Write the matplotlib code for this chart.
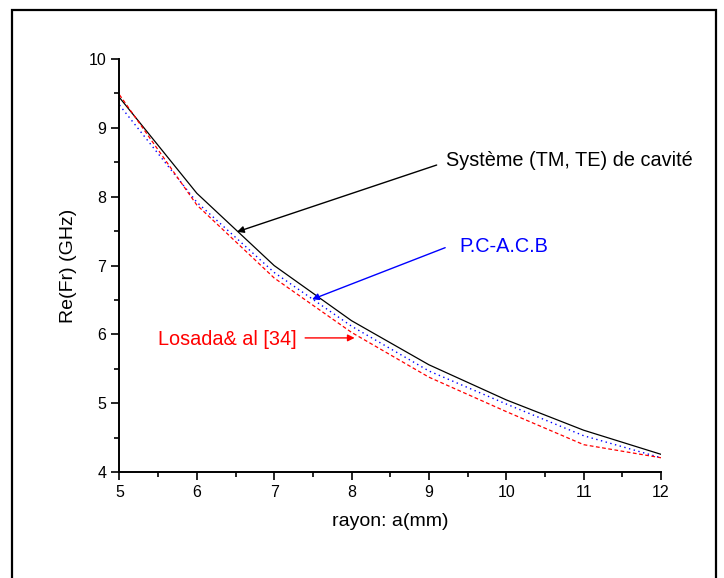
import matplotlib
matplotlib.use("Agg")
import matplotlib.pyplot as plt
from matplotlib.patches import Rectangle
from matplotlib.ticker import MultipleLocator

plt.rcParams['font.family'] = ['Liberation Sans', 'DejaVu Sans']

# data
rayon = [5, 6, 7, 8, 9, 10, 11, 12]
systeme = [9.44, 8.05, 7.00, 6.20, 5.56, 5.05, 4.61, 4.26]
pcacb = [9.33, 7.92, 6.90, 6.12, 5.47, 4.99, 4.53, 4.21]
losada = [9.48, 7.88, 6.82, 6.03, 5.38, 4.88, 4.40, 4.21]

fig = plt.figure(figsize=(7.24, 5.78), dpi=100)
ax = fig.add_axes([0.165, 0.183, 0.748, 0.715])

# outer frame
fig.patches.append(Rectangle((12 / 724, -0.05), 704 / 724, 1.05 - 10 / 578,
                             transform=fig.transFigure, fill=False,
                             edgecolor='black', linewidth=1.6))

ax.plot(rayon, systeme, color='black', linestyle='-', linewidth=0.9)
ax.plot(rayon, pcacb, color='blue', linestyle=(0, (1, 2.5)), linewidth=1.0)
ax.plot(rayon, losada, color='red', linestyle=(0, (3, 2)), linewidth=0.9)

ax.set_xlim(5, 12)
ax.set_ylim(4, 10)
ax.xaxis.set_major_locator(MultipleLocator(1))
ax.xaxis.set_minor_locator(MultipleLocator(0.5))
ax.yaxis.set_major_locator(MultipleLocator(1))
ax.yaxis.set_minor_locator(MultipleLocator(0.5))
ax.tick_params(which='major', direction='out', length=6, width=1.2, labelsize=11.5)
ax.tick_params(which='minor', direction='out', length=3.5, width=1.2)
ax.spines['top'].set_visible(False)
ax.spines['right'].set_visible(False)
ax.spines['left'].set_linewidth(1.4)
ax.spines['bottom'].set_linewidth(1.4)

ax.set_xlabel('rayon: a(mm)', fontsize=14, va='center')
ax.xaxis.set_label_coords(0.5, -0.119)
ax.set_ylabel('Re(Fr) (GHz)', fontsize=14, va='center')
ax.yaxis.set_label_coords(-0.095, 0.5)

# annotation texts
ax.text(9.22, 8.52, 'Système (TM, TE) de cavité', fontsize=14.3, color='black',
        va='center', ha='left')
ax.text(9.39, 7.28, 'P.C-A.C.B', fontsize=14.3, color='blue', va='center', ha='left')
ax.text(7.29, 5.92, 'Losada& al [34]', fontsize=14.3, color='red', va='center', ha='right')

# arrows
ax.annotate('', xy=(6.52, 7.49), xytext=(9.10, 8.46),
            arrowprops=dict(arrowstyle='-|>', color='black', lw=1.0,
                            mutation_scale=10, shrinkA=0, shrinkB=0))
ax.annotate('', xy=(7.49, 6.51), xytext=(9.21, 7.26),
            arrowprops=dict(arrowstyle='-|>', color='blue', lw=1.0,
                            mutation_scale=10, shrinkA=0, shrinkB=0))
ax.annotate('', xy=(8.04, 5.95), xytext=(7.40, 5.95),
            arrowprops=dict(arrowstyle='-|>', color='red', lw=1.0,
                            mutation_scale=10, shrinkA=0, shrinkB=0))

fig.savefig('out.png', dpi=100)
